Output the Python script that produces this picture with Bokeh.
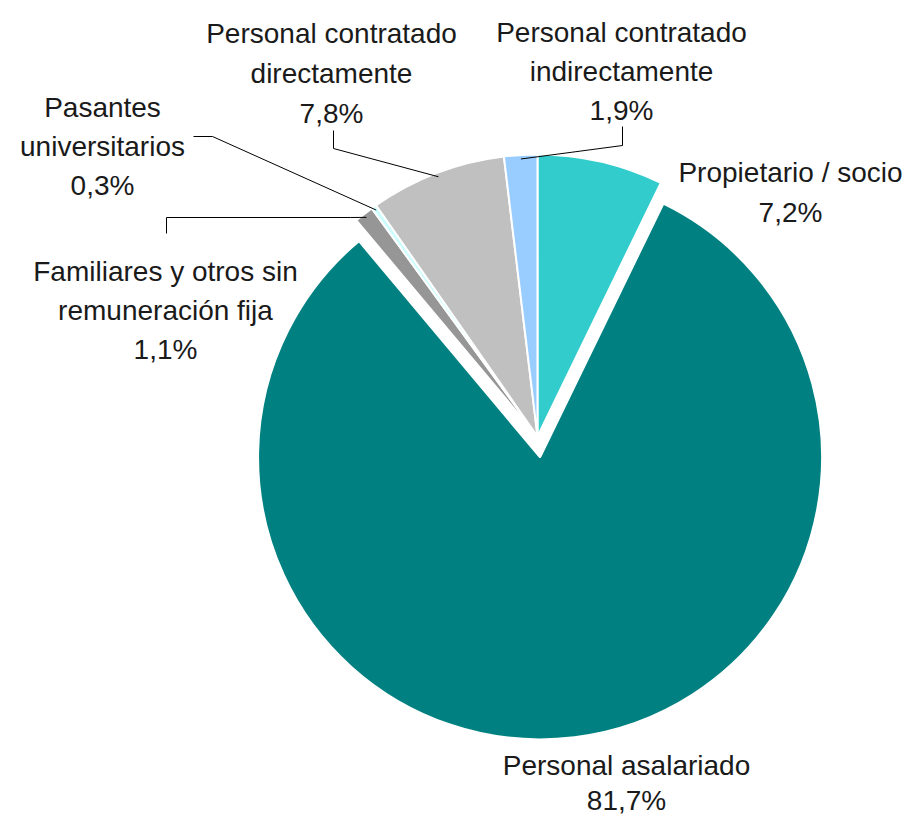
import numpy as np
from bokeh.plotting import figure
from bokeh.models import Range1d, ColumnDataSource
from bokeh.core.properties import value
from bokeh.embed import file_html
from bokeh.resources import INLINE

# ---- data ----
categories = ["Propietario / socio", "Personal asalariado",
              "Familiares y otros sin remuneración fija", "Pasantes universitarios",
              "Personal contratado directamente", "Personal contratado indirectamente"]
label_lines = [["Propietario / socio"], ["Personal asalariado"],
               ["Familiares y otros sin", "remuneración fija"], ["Pasantes", "universitarios"],
               ["Personal contratado", "directamente"], ["Personal contratado", "indirectamente"]]
shares = [7.2, 81.7, 1.1, 0.3, 7.8, 1.9]
colors = ["#33CCCC", "#008080", "#969696", "#CCFFFF", "#C0C0C0", "#99CCFF"]

# ---- layout (canvas pixel coords; y down) ----
W, H = 908, 820
CX, CY, R = 537, 436, 282
explode = [0, 21, 0, 0, 0, 0]
label_pos = [(790, 172), (626, 765), (165, 271), (102, 107), (331, 33), (621, 32)]
line_h = [40, 35, 39, 39, 40, 39]
leader_elbows = {2: [(166, 233), (166, 217), (350, 217)],
                 3: [(193, 136), (212, 136)],
                 4: [(333, 130), (333, 148)],
                 5: [(622, 126), (622, 145)]}


def Y(y):
    return H - y


vals = np.array(shares, dtype=float)
frac = vals / vals.sum()
cum = np.concatenate([[0], np.cumsum(frac)])
start = np.pi / 2 - 2 * np.pi * cum[:-1]
end = np.pi / 2 - 2 * np.pi * cum[1:]
mid = (start + end) / 2

xs = CX + np.array(explode) * np.cos(mid)
ys = Y(CY) + np.array(explode) * np.sin(mid)

p = figure(width=W, height=H, output_backend="svg", toolbar_location=None,
           x_range=Range1d(0, W), y_range=Range1d(0, H),
           min_border=0)
p.axis.visible = False
p.grid.visible = False
p.outline_line_color = None
p.background_fill_color = "white"
p.border_fill_color = "white"

src = ColumnDataSource(dict(x=xs, y=ys, start=start, end=end, color=colors, cat=categories))
p.wedge(x="x", y="y", radius=R, start_angle="start", end_angle="end",
        direction="clock", fill_color="color", line_color="white", line_width=2,
        source=src)

# leader lines
for i, elbow in leader_elbows.items():
    ax = xs[i] + (R - 4) * np.cos(mid[i])
    ay = ys[i] + (R - 4) * np.sin(mid[i])
    lx = [e[0] for e in elbow] + [ax]
    ly = [Y(e[1]) for e in elbow] + [ay]
    p.line(lx, ly, line_color="black", line_width=1)

# labels
tx, ty, tt = [], [], []
for i, lines in enumerate(label_lines):
    pct = f"{shares[i]:.1f}%".replace(".", ",")
    allines = lines + [pct]
    bx, by = label_pos[i]
    for k, t in enumerate(allines):
        tx.append(bx)
        ty.append(Y(by + k * line_h[i]))
        tt.append(t)

p.text(x=tx, y=ty, text=tt, text_align="center", text_baseline="alphabetic",
       text_font=value("Liberation Sans"), text_font_size="28px", text_color="#1a1a1a")

open("out.html", "w").write(file_html(p, INLINE))
